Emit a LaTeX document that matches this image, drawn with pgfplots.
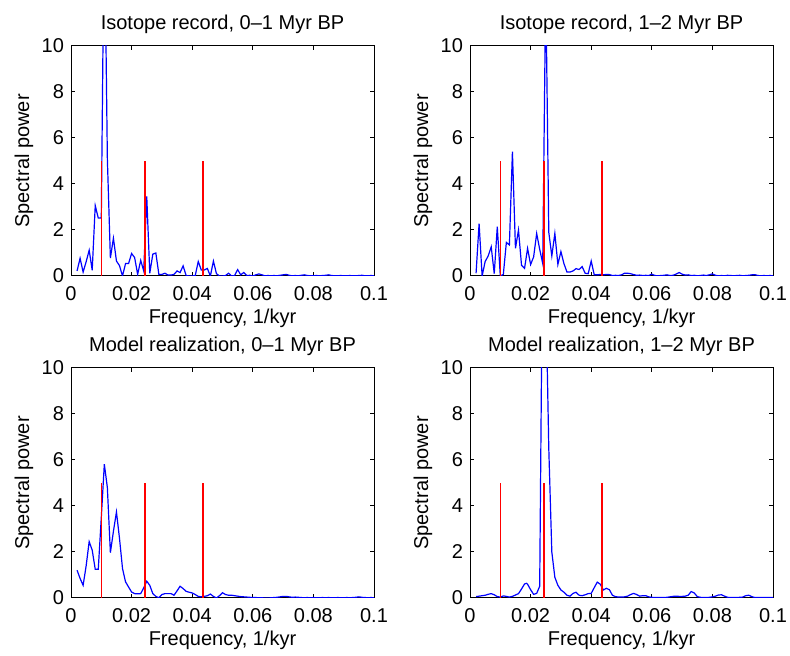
\documentclass[border=0pt]{standalone}
\usepackage{fontspec}
\setmainfont{Liberation Sans}
\usepackage{pgfplots}
\pgfplotsset{compat=1.18}

\pgfplotsset{
  spec/.style={
    scale only axis, width=151.5pt, height=115pt,
    xmin=0, xmax=0.1, ymin=0, ymax=10,
    xtick={0,0.02,0.04,0.06,0.08,0.1},
    xticklabels={0,0.02,0.04,0.06,0.08,0.1},
    ytick={0,2,4,6,8,10},
    yticklabels={0,2,4,6,8,10},
    tick align=inside, major tick length=2pt,
    axis line style={line width=0.5pt},
    every tick/.style={black, line width=0.5pt},
    xlabel={Frequency, 1/kyr}, ylabel={Spectral power},
    xlabel style={at={(axis description cs:0.5,-0.2087)}, anchor=base},
    ylabel style={at={(axis description cs:-0.1386,0.5)}, anchor=base},
    title style={at={(axis description cs:0.5,1.0696)}, anchor=base, yshift=-6pt},
    xticklabel style={anchor=base, yshift=-12.5pt},
  },
  spec line/.style={blue, line width=0.6pt},
  orbit/.style={red, line width=0.8pt},
}

% orbital periods: 41 kyr, 23 kyr, 100 kyr
\newcommand{\orbitlines}{%
  \addplot[orbit] coordinates {(0.02439,0) (0.02439,5)};
  \addplot[orbit] coordinates {(0.04348,0) (0.04348,5)};
  \addplot[orbit] coordinates {(0.0101,0) (0.0101,5)};
}

\begin{document}
\begin{tikzpicture}
\path[use as bounding box] (0,0) rectangle (395pt,328pt);

% isotope record, 0-1 Myr
\begin{axis}[spec, at={(35.5pt,190pt)}, anchor=south west,
  title={Isotope record, 0--1 Myr BP}]
\addplot[spec line] coordinates {
(0.002,0.22) (0.003,0.77) (0.004,0.17) (0.005,0.62) (0.006,1.12) (0.007,0.25)
(0.008,3.06) (0.009,2.52) (0.010,2.52) (0.011,16.1) (0.012,5.1) (0.013,0.78)
(0.014,1.64) (0.015,0.65) (0.016,0.45) (0.017,0.0) (0.018,0.54) (0.019,0.54)
(0.020,0.98) (0.021,0.80) (0.022,0.07) (0.023,0.68) (0.024,0.22) (0.025,3.46)
(0.026,0.12) (0.027,0.95) (0.028,1.00) (0.029,0.07) (0.030,0.07) (0.031,0.12)
(0.032,0.04) (0.033,0.04) (0.034,0.07) (0.035,0.22) (0.036,0.15) (0.037,0.44)
(0.038,0.02) (0.039,0.0) (0.040,0.0) (0.041,0.02) (0.042,0.63) (0.043,0.26)
(0.044,0.26) (0.045,0.33) (0.046,0.0) (0.047,0.65) (0.048,0.10) (0.049,0.0)
(0.050,0.0) (0.051,0.02) (0.052,0.12) (0.053,0.0) (0.054,0.02) (0.055,0.28)
(0.056,0.05) (0.057,0.15) (0.058,0.02) (0.059,0.03) (0.060,0.0) (0.061,0.05)
(0.062,0.09) (0.063,0.05) (0.064,0.01) (0.065,0.02) (0.066,0.01) (0.067,0.02)
(0.068,0.01) (0.069,0.03) (0.070,0.05) (0.071,0.07) (0.072,0.03) (0.073,0.01)
(0.074,0.02) (0.075,0.01) (0.076,0.03) (0.077,0.05) (0.078,0.02) (0.079,0.01)
(0.080,0.01) (0.081,0.02) (0.082,0.01) (0.083,0.02) (0.084,0.03) (0.085,0.05)
(0.086,0.02) (0.087,0.01) (0.088,0.01) (0.089,0.02) (0.090,0.01) (0.091,0.01)
(0.092,0.02) (0.093,0.01) (0.094,0.01) (0.095,0.02) (0.096,0.03) (0.097,0.01)
(0.098,0.01) (0.099,0.02) (0.100,0.01)
};
\orbitlines
\end{axis}

% isotope record, 1-2 Myr
\begin{axis}[spec, at={(235pt,190pt)}, anchor=south west,
  title={Isotope record, 1--2 Myr BP}]
\addplot[spec line] coordinates {
(0.002,0.12) (0.003,2.28) (0.004,0.0) (0.005,0.63) (0.006,0.87) (0.007,1.27)
(0.008,0.10) (0.009,2.14) (0.010,0.0) (0.011,0.07) (0.012,1.46) (0.013,1.35)
(0.014,5.41) (0.015,1.20) (0.016,2.00) (0.017,0.47) (0.018,0.33) (0.019,1.20)
(0.020,0.50) (0.021,0.83) (0.022,1.85) (0.023,1.16) (0.024,0.54) (0.025,12.7)
(0.026,1.90) (0.027,0.87) (0.028,1.85) (0.029,0.50) (0.030,1.06) (0.031,0.54)
(0.032,0.17) (0.033,0.17) (0.034,0.22) (0.035,0.32) (0.036,0.28) (0.037,0.41)
(0.038,0.12) (0.039,0.10) (0.040,0.65) (0.041,0.05) (0.042,0.05) (0.043,0.07)
(0.044,0.05) (0.045,0.07) (0.046,0.06) (0.047,0.02) (0.048,0.03) (0.049,0.02)
(0.050,0.05) (0.051,0.12) (0.052,0.12) (0.053,0.10) (0.054,0.06) (0.055,0.03)
(0.056,0.04) (0.057,0.02) (0.058,0.03) (0.059,0.02) (0.060,0.08) (0.061,0.02)
(0.062,0.01) (0.063,0.02) (0.064,0.03) (0.065,0.05) (0.066,0.02) (0.067,0.03)
(0.068,0.08) (0.069,0.15) (0.070,0.08) (0.071,0.04) (0.072,0.05) (0.073,0.02)
(0.074,0.03) (0.075,0.01) (0.076,0.02) (0.077,0.04) (0.078,0.02) (0.079,0.05)
(0.080,0.09) (0.081,0.03) (0.082,0.01) (0.083,0.02) (0.084,0.01) (0.085,0.03)
(0.086,0.02) (0.087,0.01) (0.088,0.02) (0.089,0.03) (0.090,0.01) (0.091,0.02)
(0.092,0.03) (0.093,0.05) (0.094,0.06) (0.095,0.02) (0.096,0.01) (0.097,0.02)
(0.098,0.01) (0.099,0.02) (0.100,0.01)
};
\orbitlines
\end{axis}

% model realization, 0-1 Myr
\begin{axis}[spec, at={(35.5pt,29pt)}, anchor=south west,
  title={Model realization, 0--1 Myr BP}]
\addplot[spec line] coordinates {
(0.002,1.21) (0.003,0.85) (0.004,0.55) (0.005,1.40) (0.006,2.45) (0.007,2.08)
(0.008,1.25) (0.009,1.25) (0.010,3.50) (0.011,5.82) (0.012,4.80) (0.013,1.97)
(0.014,2.90) (0.015,3.74) (0.016,2.60) (0.017,1.28) (0.018,0.70) (0.019,0.48)
(0.020,0.26) (0.021,0.19) (0.022,0.18) (0.023,0.19) (0.024,0.44) (0.025,0.73)
(0.026,0.55) (0.027,0.19) (0.028,0.07) (0.029,0.01) (0.030,0.15) (0.031,0.19)
(0.032,0.19) (0.033,0.19) (0.034,0.12) (0.035,0.31) (0.036,0.51) (0.037,0.41)
(0.038,0.29) (0.039,0.25) (0.040,0.22) (0.041,0.15) (0.042,0.07) (0.043,0.05)
(0.044,0.07) (0.045,0.10) (0.046,0.17) (0.047,0.07) (0.048,0.0) (0.049,0.10)
(0.050,0.23) (0.051,0.15) (0.052,0.12) (0.053,0.12) (0.054,0.10) (0.055,0.08)
(0.056,0.06) (0.057,0.05) (0.058,0.04) (0.059,0.03) (0.060,0.02) (0.061,0.02)
(0.062,0.01) (0.063,0.01) (0.064,0.0) (0.065,0.0) (0.066,0.01) (0.067,0.02)
(0.068,0.03) (0.069,0.05) (0.070,0.07) (0.071,0.07) (0.072,0.05) (0.073,0.03)
(0.074,0.04) (0.075,0.03) (0.076,0.02) (0.077,0.01) (0.078,0.02) (0.079,0.01)
(0.080,0.02) (0.081,0.01) (0.082,0.01) (0.083,0.02) (0.084,0.01) (0.085,0.02)
(0.086,0.01) (0.087,0.01) (0.088,0.02) (0.089,0.01) (0.090,0.01) (0.091,0.02)
(0.092,0.01) (0.093,0.02) (0.094,0.03) (0.095,0.05) (0.096,0.03) (0.097,0.02)
(0.098,0.01) (0.099,0.02) (0.100,0.01)
};
\orbitlines
\end{axis}

% model realization, 1-2 Myr
\begin{axis}[spec, at={(235pt,29pt)}, anchor=south west,
  title={Model realization, 1--2 Myr BP}]
\addplot[spec line] coordinates {
(0.002,0.06) (0.003,0.08) (0.004,0.10) (0.005,0.12) (0.006,0.16) (0.007,0.19)
(0.008,0.14) (0.009,0.06) (0.010,0.04) (0.011,0.09) (0.012,0.07) (0.013,0.04)
(0.014,0.07) (0.015,0.13) (0.016,0.19) (0.017,0.39) (0.018,0.61) (0.0187,0.64)
(0.019,0.60) (0.020,0.36) (0.021,0.16) (0.022,0.20) (0.023,0.51) (0.024,16.3)
(0.025,13.5) (0.026,6.5) (0.027,2.0) (0.028,0.90) (0.029,0.55) (0.030,0.35)
(0.031,0.25) (0.032,0.12) (0.033,0.08) (0.034,0.20) (0.035,0.25) (0.036,0.12)
(0.037,0.10) (0.038,0.14) (0.039,0.19) (0.040,0.20) (0.041,0.45) (0.042,0.69)
(0.043,0.60) (0.044,0.35) (0.045,0.42) (0.046,0.36) (0.047,0.12) (0.048,0.06)
(0.049,0.04) (0.050,0.04) (0.051,0.05) (0.052,0.08) (0.053,0.15) (0.054,0.20)
(0.055,0.15) (0.056,0.08) (0.057,0.10) (0.058,0.10) (0.059,0.05) (0.060,0.03)
(0.061,0.02) (0.062,0.02) (0.063,0.02) (0.064,0.02) (0.065,0.03) (0.066,0.05)
(0.067,0.07) (0.068,0.08) (0.069,0.07) (0.070,0.07) (0.071,0.08) (0.072,0.12)
(0.073,0.28) (0.074,0.22) (0.075,0.06) (0.076,0.03) (0.077,0.02) (0.078,0.02)
(0.079,0.03) (0.080,0.05) (0.081,0.08) (0.082,0.13) (0.083,0.14) (0.084,0.08)
(0.085,0.03) (0.086,0.02) (0.087,0.02) (0.088,0.02) (0.089,0.03) (0.090,0.04)
(0.091,0.10) (0.092,0.12) (0.093,0.06) (0.094,0.02) (0.095,0.02) (0.096,0.02)
(0.097,0.02) (0.098,0.02) (0.099,0.02) (0.100,0.02)
};
\orbitlines
\end{axis}
\end{tikzpicture}
\end{document}
